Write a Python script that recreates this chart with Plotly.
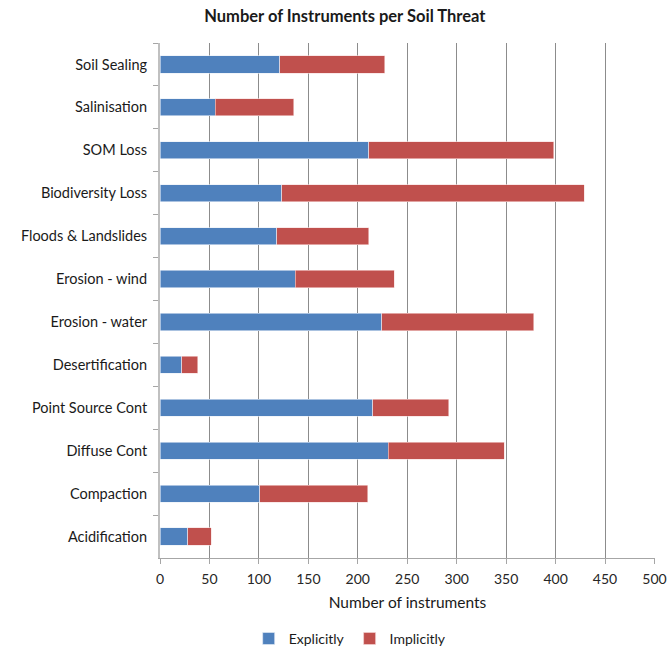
import plotly.graph_objects as go

categories = ["Soil Sealing", "Salinisation", "SOM Loss", "Biodiversity Loss",
              "Floods & Landslides", "Erosion - wind", "Erosion - water",
              "Desertification", "Point Source Cont", "Diffuse Cont",
              "Compaction", "Acidification"]
explicitly = [121, 56, 211, 123, 118, 137, 224, 22, 215, 231, 101, 28]
implicitly = [106, 79, 187, 306, 93, 100, 154, 16, 77, 117, 109, 24]

FONT = "Lato"

fig = go.Figure()
fig.add_trace(go.Bar(y=categories, x=explicitly, orientation="h", name="Explicitly",
                     marker=dict(color="#4F81BD", line=dict(color="#E8EEF7", width=0.6))))
fig.add_trace(go.Bar(y=categories, x=implicitly, orientation="h", name="Implicitly",
                     marker=dict(color="#C0504D", line=dict(color="#F6DADA", width=0.6))))

fig.update_layout(
    barmode="stack",
    bargap=0.6,
    width=667, height=648,
    margin=dict(l=160, r=12, t=43, b=90, autoexpand=False),
    paper_bgcolor="white", plot_bgcolor="white",
    font=dict(family=FONT, size=14.5, color="#1a1a1a"),
    title=dict(text="<b>Number of Instruments per Soil Threat</b>", x=0.517, xanchor="center",
               xref="container", yref="container", y=0.975, yanchor="middle",
               font=dict(family=FONT, size=16.5, color="#1a1a1a")),
    legend=dict(orientation="h", xref="container", x=0.525, xanchor="center",
                yref="container", y=0.014, yanchor="middle", itemwidth=30,
                font=dict(size=14), traceorder="normal"),
    showlegend=True,
)
fig.update_xaxes(range=[0, 500.5], tickvals=[0, 50, 100, 150, 200, 250, 300, 350, 400, 450, 500],
                 showgrid=True, gridcolor="#8C8C8C", gridwidth=1,
                 showline=True, linecolor="#A6A6A6", linewidth=1, ticks="outside", ticklen=5,
                 tickcolor="#A6A6A6", tickfont=dict(size=14, color="#262626"),
                 ticklabeloverflow="allow", ticklabelstandoff=3,
                 title=dict(text="Number of instruments", font=dict(size=15.5, color="#1a1a1a"),
                            standoff=11),
                 zeroline=False, automargin=False)
fig.update_yaxes(autorange="reversed", showline=True, linecolor="#C0C0C0", linewidth=2,
                 ticks="outside", ticklen=5, tickcolor="#A6A6A6", tickson="boundaries",
                 ticklabelstandoff=8, automargin=False,
                 tickfont=dict(size=14.5, color="#1a1a1a"), showgrid=False)

fig.write_html("out.html", config={"displayModeBar": False},
               post_script="document.body.style.margin='0';")
